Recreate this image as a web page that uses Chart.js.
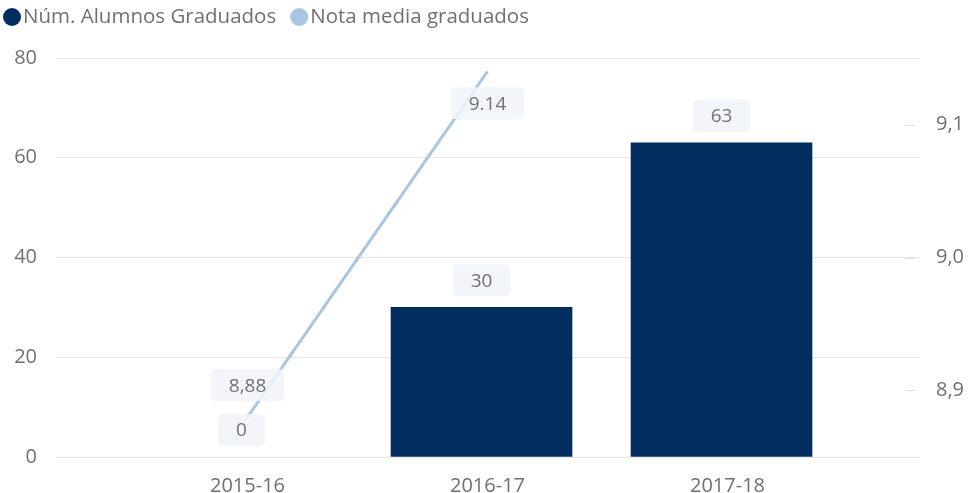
<!DOCTYPE html>
<html>
<head>
<meta charset="utf-8">
<script src="https://cdn.jsdelivr.net/npm/chart.js@4"></script>
<style>
  html, body { margin: 0; padding: 0; background: #fff; }
  #wrap { width: 972px; height: 493px; position: relative; }
</style>
</head>
<body>
<div id="wrap"><canvas id="graduados"></canvas></div>
<script>
const cursos = ['2015-16', '2016-17', '2017-18'];
const numGraduados = [0, 30, 63];
const notaMedia = [8.88, 9.14];
const notaTextos = ['8,88', '9.14'];
const graduadosTicks = [0, 20, 40, 60, 80];
const notaTicks = [8.9, 9.0, 9.1];
const notaTickTextos = ['8,9', '9,0', '9,1'];

const FONT = "'Segoe UI', 'Open Sans', 'Noto Sans', sans-serif";
const GRIS = '#707070';
const AZUL = '#002f5f';
const CELESTE = '#a8c5e1';
const DESPLAZ_LINEA = 6; // the line series sits a few px right of the bar centres

Chart.defaults.font.family = FONT;
Chart.defaults.font.size = 20;
Chart.defaults.color = GRIS;

// legend drawn by hand: dot + text, tight like the report visual
const leyenda = {
  id: 'leyenda',
  afterDraw(chart) {
    const ctx = chart.ctx;
    ctx.save();
    ctx.font = '20.5px ' + FONT;
    ctx.textBaseline = 'middle';
    let x = 3;
    const y = 17;
    chart.data.datasets.forEach(ds => {
      ctx.fillStyle = ds.legendColor;
      ctx.beginPath();
      ctx.arc(x + 9, y, 9, 0, Math.PI * 2);
      ctx.fill();
      ctx.fillStyle = GRIS;
      ctx.textAlign = 'left';
      ctx.fillText(ds.label, x + 20, y);
      x += 20 + ctx.measureText(ds.label).width + 14;
    });
    ctx.restore();
  }
};

function caja(ctx, texto, cx, cy) {
  ctx.font = '19px ' + FONT;
  const w = ctx.measureText(texto).width + 36;
  const h = 32;
  ctx.fillStyle = 'rgba(240,245,250,0.85)';
  ctx.beginPath();
  ctx.roundRect(cx - w / 2, cy - h / 2, w, h, 5);
  ctx.fill();
  ctx.fillStyle = GRIS;
  ctx.textAlign = 'center';
  ctx.textBaseline = 'middle';
  ctx.fillText(texto, cx, cy + 1);
}

// value labels for bars and line, plus the small tick dashes of the right axis
const etiquetas = {
  id: 'etiquetas',
  beforeDatasetDraw(chart, args) {
    if (args.index === 1) {
      chart.ctx.save();
      chart.ctx.translate(DESPLAZ_LINEA, 0);
    }
  },
  afterDatasetDraw(chart, args) {
    if (args.index === 1) chart.ctx.restore();
  },
  afterDatasetsDraw(chart) {
    const ctx = chart.ctx;
    const area = chart.chartArea;
    ctx.save();

    const y1 = chart.scales.y1;
    ctx.strokeStyle = '#e2e2e2';
    ctx.lineWidth = 1;
    y1.ticks.forEach(t => {
      const py = Math.round(y1.getPixelForValue(t.value)) + 0.5;
      ctx.beginPath();
      ctx.moveTo(area.right - 15, py);
      ctx.lineTo(area.right - 5, py);
      ctx.stroke();
    });

    chart.getDatasetMeta(0).data.forEach((bar, i) => {
      caja(ctx, String(numGraduados[i]), bar.x, bar.y - 27);
    });
    chart.getDatasetMeta(1).data.forEach((pt, i) => {
      const arriba = pt.y - 48 > area.top;
      caja(ctx, notaTextos[i], pt.x + DESPLAZ_LINEA, arriba ? pt.y - 32 : pt.y + 32);
    });
    ctx.restore();
  }
};

new Chart(document.getElementById('graduados'), {
  type: 'bar',
  data: {
    datasets: [
      {
        type: 'bar',
        label: 'Núm. Alumnos Graduados',
        data: numGraduados.map((v, i) => ({ x: i, y: v })),
        backgroundColor: c => (c.raw && c.raw.y === 0) ? 'rgba(0,0,0,0)' : AZUL,
        legendColor: AZUL,
        barThickness: 181,
        yAxisID: 'y',
        order: 2
      },
      {
        type: 'line',
        label: 'Nota media graduados',
        data: notaMedia.map((v, i) => ({ x: i, y: v })),
        borderColor: CELESTE,
        legendColor: CELESTE,
        borderWidth: 3,
        pointRadius: 0,
        tension: 0,
        yAxisID: 'y1',
        order: 1
      }
    ]
  },
  options: {
    responsive: true,
    maintainAspectRatio: false,
    animation: false,
    layout: { padding: { top: 58, left: 0, right: 0, bottom: 0 } },
    plugins: {
      legend: { display: false },
      tooltip: { enabled: false }
    },
    scales: {
      x: {
        type: 'linear',
        offset: false,
        bounds: 'data',
        min: -0.773,
        max: 2.827,
        grid: { display: false },
        border: { display: false },
        afterBuildTicks: s => { s.ticks = cursos.map((c, i) => ({ value: i })); },
        ticks: {
          autoSkip: false,
          maxRotation: 0,
          padding: 9,
          labelOffset: DESPLAZ_LINEA,
          callback: v => cursos[v]
        },
        afterFit: s => { s.height = 36; }
      },
      y: {
        position: 'left',
        min: 0,
        max: 80,
        grid: { color: '#e6e6e6', drawTicks: false },
        border: { display: false },
        afterBuildTicks: s => { s.ticks = graduadosTicks.map(v => ({ value: v })); },
        ticks: { padding: 19 },
        afterFit: s => { s.width = 56; }
      },
      y1: {
        position: 'right',
        bounds: 'data',
        min: 8.85,
        max: 9.15,
        grid: { drawOnChartArea: false, drawTicks: false },
        border: { display: false },
        afterBuildTicks: s => { s.ticks = notaTicks.map(v => ({ value: v })); },
        ticks: {
          padding: 16,
          callback: (v, i) => notaTickTextos[i]
        },
        afterFit: s => { s.width = 52; }
      }
    }
  },
  plugins: [leyenda, etiquetas]
});
</script>
</body>
</html>
